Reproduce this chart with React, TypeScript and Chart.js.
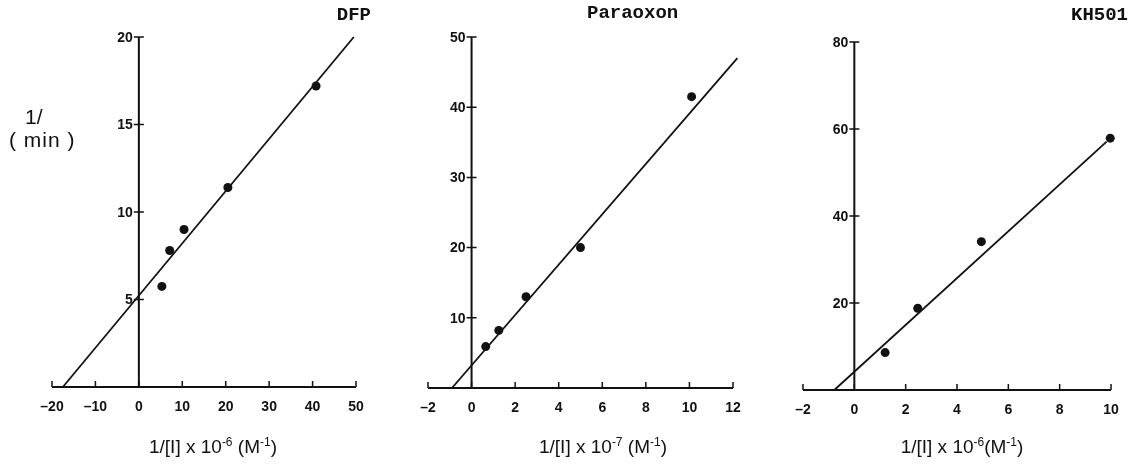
import React, { useEffect, useRef } from "react";
import { Chart, registerables } from "chart.js";

Chart.register(...registerables);

// ---------- DATA ----------
// DFP panel
const dfpX = [5.3, 7.1, 10.4, 20.5, 40.8];
const dfpY = [5.75, 7.8, 9.0, 11.4, 17.2];
const dfpFitX = [-17.5, 49.5];
const dfpFitY = [0, 20];
const dfpXRange = [-20, 50, 10]; // min, max, step
const dfpYRange = [0, 20, 5];

// Paraoxon panel
const paraX = [0.65, 1.25, 2.5, 5.0, 10.1];
const paraY = [5.9, 8.2, 13.0, 20.0, 41.5];
const paraFitX = [-0.9, 12.2];
const paraFitY = [0, 47];
const paraXRange = [-2, 12, 2];
const paraYRange = [0, 50, 10];

// KH501 panel
const khX = [1.2, 2.47, 4.95, 9.97];
const khY = [8.6, 18.8, 34.1, 57.9];
const khFitX = [-0.78, 9.83];
const khFitY = [0, 57.1];
const khXRange = [-2, 10, 2];
const khYRange = [0, 80, 20];

const titles = ["DFP", "Paraoxon", "KH501"];
const xTitleExp = ["-6", "-7", "-6"];

// ---------- LAYOUT ----------
const W = 1141;
const H = 469;
const INK = "#111";

const panels = [
  { xs: dfpX, ys: dfpY, fx: dfpFitX, fy: dfpFitY, xr: dfpXRange, yr: dfpYRange, pad: { left: 52, right: W - 356, top: 37, bottom: H - 387 } },
  { xs: paraX, ys: paraY, fx: paraFitX, fy: paraFitY, xr: paraXRange, yr: paraYRange, pad: { left: 428, right: W - 733, top: 37, bottom: H - 388 } },
  { xs: khX, ys: khY, fx: khFitX, fy: khFitY, xr: khXRange, yr: khYRange, pad: { left: 803, right: W - 1111, top: 42, bottom: H - 390 } },
];

const fmt = (v: number) => (v < 0 ? "\u2013" + Math.abs(v) : String(v));
const TICK_FONT = "bold 14px 'Liberation Sans', Arial, sans-serif";

const crossAxes = {
  id: "crossAxes",
  beforeDatasetsDraw(chart: any) {
    const { ctx } = chart;
    const xs = chart.scales.x;
    const ys = chart.scales.y;
    const y0 = ys.getPixelForValue(0);
    const x0 = xs.getPixelForValue(0);
    ctx.save();
    ctx.strokeStyle = INK;
    ctx.lineWidth = 2;
    ctx.beginPath();
    ctx.moveTo(xs.getPixelForValue(xs.min), y0);
    ctx.lineTo(xs.getPixelForValue(xs.max), y0);
    ctx.moveTo(x0, ys.getPixelForValue(ys.max));
    ctx.lineTo(x0, y0);
    ctx.stroke();
    ctx.lineWidth = 1.5;
    ctx.beginPath();
    xs.ticks.forEach((t: any) => {
      const px = xs.getPixelForValue(t.value);
      ctx.moveTo(px, y0);
      ctx.lineTo(px, y0 - 6);
    });
    ys.ticks.forEach((t: any) => {
      if (t.value === 0) return;
      const py = ys.getPixelForValue(t.value);
      ctx.moveTo(x0 - 5, py);
      ctx.lineTo(x0 + 5, py);
    });
    ctx.stroke();
    // tick labels
    ctx.fillStyle = INK;
    ctx.font = TICK_FONT;
    ctx.textAlign = "center";
    ctx.textBaseline = "middle";
    xs.ticks.forEach((t: any) => {
      ctx.fillText(fmt(t.value), xs.getPixelForValue(t.value), y0 + 20);
    });
    ctx.textAlign = "right";
    ys.ticks.forEach((t: any) => {
      if (t.value === 0) return;
      ctx.fillText(fmt(t.value), x0 - 6, ys.getPixelForValue(t.value) + 1);
    });
    ctx.restore();
  },
};

function Panel({ p }: { p: any }) {
  const ref = useRef<HTMLCanvasElement | null>(null);
  useEffect(() => {
    if (!ref.current) return;
    const chart = new Chart(ref.current, {
      type: "scatter",
      data: {
        datasets: [
          {
            data: p.fx.map((x: number, i: number) => ({ x, y: p.fy[i] })),
            showLine: true,
            borderColor: INK,
            borderWidth: 1.8,
            pointRadius: 0,
            clip: false as any,
          },
          {
            data: p.xs.map((x: number, i: number) => ({ x, y: p.ys[i] })),
            showLine: false,
            backgroundColor: INK,
            borderColor: INK,
            borderWidth: 0,
            pointRadius: 4.5,
            clip: false as any,
          },
        ],
      },
      options: {
        responsive: false,
        animation: false,
        devicePixelRatio: 1,
        layout: { padding: p.pad },
        plugins: { legend: { display: false }, tooltip: { enabled: false } },
        scales: {
          x: {
            type: "linear",
            min: p.xr[0],
            max: p.xr[1],
            grid: { display: false, drawTicks: false },
            border: { display: false },
            ticks: { display: false, stepSize: p.xr[2], autoSkip: false },
            afterFit: (s: any) => { s.height = 0; },
          },
          y: {
            type: "linear",
            position: { x: 0 } as any,
            min: p.yr[0],
            max: p.yr[1],
            grid: { display: false, drawTicks: false },
            border: { display: false },
            ticks: { display: false, stepSize: p.yr[2], autoSkip: false },
            afterFit: (s: any) => { s.width = 0; },
          },
        },
      },
      plugins: [crossAxes],
    });
    return () => chart.destroy();
  }, [p]);
  return <canvas ref={ref} width={W} height={H} style={{ position: "absolute", left: 0, top: 0, width: W, height: H }} />;
}

const monoTitle: React.CSSProperties = {
  position: "absolute",
  fontFamily: "'Liberation Mono', 'Courier New', monospace",
  fontWeight: "bold",
  fontSize: 19,
  lineHeight: "20px",
  color: INK,
  whiteSpace: "nowrap",
};

const xTitleStyle: React.CSSProperties = {
  position: "absolute",
  width: 300,
  textAlign: "center",
  fontFamily: "'Liberation Sans', Arial, sans-serif",
  fontSize: 19,
  lineHeight: "22px",
  color: INK,
  whiteSpace: "nowrap",
};

const supStyle: React.CSSProperties = { fontSize: 12, lineHeight: 0 };
const xTitleCenters = [213, 603, 962];

export default function App() {
  return (
    <div style={{ position: "absolute", left: 0, top: 0, width: W, height: H, background: "#fff", overflow: "hidden" }}>
      {panels.map((p, i) => (
        <Panel key={i} p={p} />
      ))}
      <div style={{ ...monoTitle, left: 0, width: 371, textAlign: "right", top: 5 }}>{titles[0]}</div>
      <div style={{ ...monoTitle, left: 587, top: 3 }}>{titles[1]}</div>
      <div style={{ ...monoTitle, left: 0, width: 1128, textAlign: "right", top: 5 }}>{titles[2]}</div>
      <div style={{ position: "absolute", left: 25, top: 106, fontFamily: "'Liberation Sans', Arial, sans-serif", fontSize: 21, lineHeight: "22px", color: INK }}>1/</div>
      <div style={{ position: "absolute", left: 9, top: 129, fontFamily: "'Liberation Sans', Arial, sans-serif", fontSize: 21, lineHeight: "22px", letterSpacing: 1, color: INK, whiteSpace: "pre" }}>( min )</div>
      {xTitleCenters.map((c, i) => (
        <div key={i} style={{ ...xTitleStyle, left: c - 150, top: 436 }}>
          1/[I] x 10<sup style={supStyle}>{xTitleExp[i]}</sup>
          {i === 2 ? "" : " "}(M<sup style={supStyle}>-1</sup>)
        </div>
      ))}
    </div>
  );
}
